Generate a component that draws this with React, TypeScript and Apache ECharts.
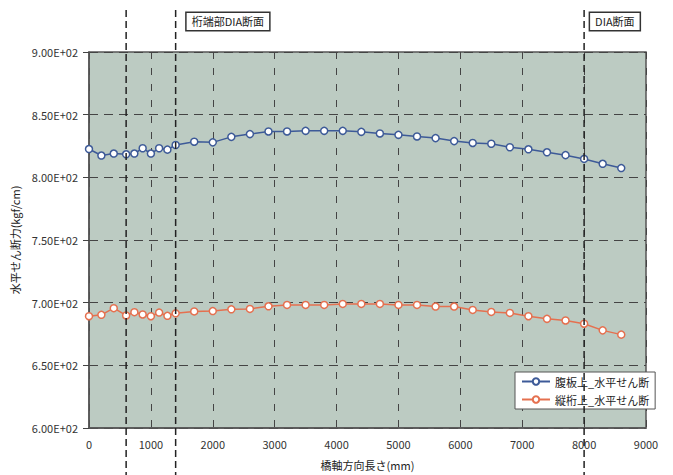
import React, { useEffect, useRef } from "react";
import * as echarts from "echarts";

const xPositions = [0, 200, 400, 600, 733, 867, 1000, 1133, 1267, 1400, 1700, 2000, 2300, 2600, 2900, 3200, 3500, 3800, 4100, 4400, 4700, 5000, 5300, 5600, 5900, 6200, 6500, 6800, 7100, 7400, 7700, 8000, 8300, 8600];
const webShear = [822.6, 817.4, 819.0, 818.4, 819.0, 823.2, 819.0, 823.2, 822.1, 825.8, 828.4, 827.9, 832.3, 834.5, 836.6, 836.6, 837.1, 837.1, 837.1, 836.3, 835.0, 833.9, 832.6, 831.3, 828.9, 827.4, 826.8, 824.0, 822.4, 820.0, 817.7, 814.7, 810.8, 807.4];
const stringerShear = [689.2, 690.3, 695.6, 689.8, 692.4, 690.6, 689.2, 692.1, 689.5, 691.5, 693.0, 693.3, 694.7, 695.0, 697.1, 698.2, 698.2, 698.2, 699.0, 699.0, 699.0, 698.2, 698.2, 696.9, 696.9, 694.2, 692.6, 691.8, 689.2, 687.1, 685.8, 683.2, 677.9, 674.5];
const seriesNames = ["腹板上_水平せん断", "縦桁上_水平せん断"];
const sectionLines = [600, 1400, 8000];
const sectionLabels = ["", "桁端部DIA断面", "DIA断面"];
const xAxisTitle = "橋軸方向長さ(mm)";
const yAxisTitle = "水平せん断力(kgf/cm)";

const FONT = "'Noto Sans CJK JP', 'Noto Sans', sans-serif";

export default function App() {
  const ref = useRef<HTMLDivElement>(null);
  useEffect(() => {
    if (!ref.current) return;
    const chart = echarts.init(ref.current, undefined, { renderer: "svg" });
    const mk = (ys: number[]) => xPositions.map((x, i) => [x, ys[i]]);
    chart.setOption({
      animation: false,
      backgroundColor: "#ffffff",
      textStyle: { fontFamily: FONT },
      grid: {
        left: 89,
        right: 27,
        top: 52,
        bottom: 43,
        show: true,
        backgroundColor: "#bccbc2",
        borderColor: "#555",
        borderWidth: 1.5,
      },
      legend: {
        left: 515,
        top: 372,
        orient: "vertical",
        backgroundColor: "#fff",
        borderColor: "#555",
        borderWidth: 1,
        padding: [3, 6],
        itemGap: 5,
        itemWidth: 28,
        itemHeight: 8,
        textStyle: { fontSize: 11, lineHeight: 13, color: "#222", fontFamily: FONT },
        data: seriesNames,
      },
      xAxis: {
        type: "value",
        min: 0,
        max: 9000,
        interval: 1000,
        name: xAxisTitle,
        nameLocation: "middle",
        nameGap: 31,
        nameTextStyle: { fontSize: 11, color: "#222", fontFamily: FONT },
        axisLine: { show: true, lineStyle: { color: "#555", width: 1.5 } },
        axisTick: { show: false },
        axisLabel: {
          fontSize: 11,
          color: "#333",
          margin: 10,
          fontFamily: FONT,
          formatter: (v: number) => String(v),
        },
        splitLine: { show: true, lineStyle: { color: "#444", type: [7, 9], width: 1 } },
      },
      yAxis: {
        type: "value",
        min: 600,
        max: 900,
        interval: 50,
        name: yAxisTitle,
        nameLocation: "middle",
        nameGap: 67,
        nameTextStyle: { fontSize: 11, color: "#222", fontFamily: FONT },
        axisLine: { show: true, lineStyle: { color: "#555", width: 1.5 } },
        axisTick: { show: true, inside: false, length: 6, lineStyle: { color: "#444" } },
        axisLabel: {
          fontSize: 11,
          color: "#333",
          margin: 11,
          fontFamily: FONT,
          formatter: (v: number) => v.toExponential(2).replace("e+", "E+0").toUpperCase(),
        },
        splitLine: { show: true, lineStyle: { color: "#444", type: [9, 6], width: 1 } },
      },
      series: [
        {
          name: seriesNames[0],
          type: "line",
          data: mk(webShear),
          symbol: "circle",
          symbolSize: 7,
          lineStyle: { color: "#3d5a98", width: 1.5 },
          itemStyle: { color: "#ffffff", borderColor: "#3d5a98", borderWidth: 1.5 },
        },
        {
          name: seriesNames[1],
          type: "line",
          data: mk(stringerShear),
          symbol: "circle",
          symbolSize: 7,
          lineStyle: { color: "#e5704f", width: 1.5 },
          itemStyle: { color: "#ffffff", borderColor: "#e5704f", borderWidth: 1.5 },
        },
      ],
    });

    const graphics: any[] = [];
    sectionLines.forEach((v, i) => {
      const px = chart.convertToPixel({ xAxisIndex: 0 }, v) as number;
      graphics.push({
        type: "line",
        z: 10,
        shape: { x1: px, y1: 10, x2: px, y2: 475 },
        style: { stroke: "#222", lineWidth: 1.5, lineDash: [7, 4] },
      });
      if (sectionLabels[i]) {
        graphics.push({
          type: "text",
          z: 10,
          x: px + (i === 2 ? 6 : 11),
          y: 13,
          style: {
            text: sectionLabels[i],
            font: `11px ${FONT}`,
            fill: "#222",
            backgroundColor: "#fff",
            borderColor: "#333",
            borderWidth: 1.5,
            padding: [3, 5],
          },
        });
      }
    });
    chart.setOption({ graphic: graphics });

    return () => chart.dispose();
  }, []);
  return (
    <div
      ref={ref}
      style={{ position: "fixed", left: 0, top: 0, width: 673, height: 475 }}
    />
  );
}
